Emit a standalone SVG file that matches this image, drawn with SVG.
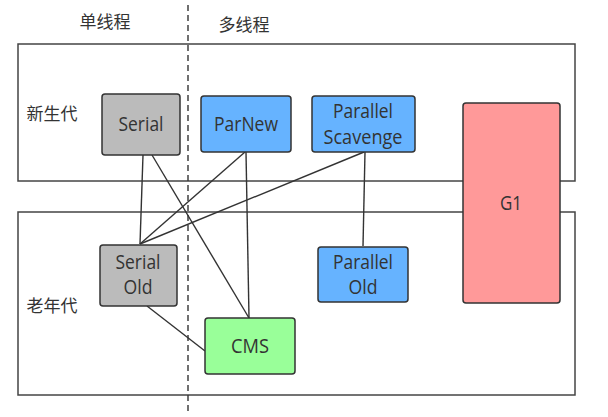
<svg xmlns="http://www.w3.org/2000/svg" width="608" height="417" viewBox="0 0 608 417">
<style>
.region{fill:none;stroke:#444;stroke-width:1.5}
.node{stroke:#333;stroke-width:1.5}
.t{font-family:"Open Sans","Noto Sans","Liberation Sans",sans-serif;font-size:20px;fill:#333;text-anchor:middle}
.c{font-family:"Noto Sans CJK SC",sans-serif;font-size:17px;fill:#333;text-anchor:middle}
.conn{stroke:#333;stroke-width:1.4;fill:none}
</style>
<rect width="608" height="417" fill="#fff"/>
<rect class="region" x="18" y="44" width="557" height="137"/>
<rect class="region" x="18" y="212" width="557" height="183"/>
<line x1="188" y1="5" x2="188" y2="412" stroke="#333" stroke-width="1.4" stroke-dasharray="6,4"/>
<text class="c" x="105" y="28">单线程</text>
<text class="c" x="244" y="31">多线程</text>
<text class="c" x="52" y="120">新生代</text>
<text class="c" x="52" y="312">老年代</text>
<g id="connectors">
<line class="conn" x1="143" y1="155" x2="140" y2="244"/>
<line class="conn" x1="152" y1="155" x2="249" y2="318"/>
<line class="conn" x1="245" y1="152" x2="140" y2="244"/>
<line class="conn" x1="246" y1="152" x2="249" y2="318"/>
<line class="conn" x1="364" y1="152" x2="140" y2="244"/>
<line class="conn" x1="365" y1="152" x2="363" y2="246"/>
<line class="conn" x1="147" y1="306" x2="205" y2="351"/>
</g>
<g id="serial"><rect class="node" x="102" y="94" width="78" height="61" rx="3" fill="#bbbbbb"/><text class="t" x="141" y="131" textLength="45" lengthAdjust="spacingAndGlyphs">Serial</text></g>
<g id="parnew"><rect class="node" x="201" y="96" width="90" height="56" rx="3" fill="#66b3ff"/><text class="t" x="246" y="131" textLength="64" lengthAdjust="spacingAndGlyphs">ParNew</text></g>
<g id="parallel-scavenge"><rect class="node" x="312" y="96" width="103" height="56" rx="3" fill="#66b3ff"/><text class="t" x="363" y="118" textLength="60" lengthAdjust="spacingAndGlyphs">Parallel</text><text class="t" x="363" y="144" textLength="79" lengthAdjust="spacingAndGlyphs">Scavenge</text></g>
<g id="g1"><rect class="node" x="463" y="103" width="97" height="200" rx="3" fill="#ff9999"/><text class="t" x="511" y="210" textLength="22" lengthAdjust="spacingAndGlyphs">G1</text></g>
<g id="serial-old"><rect class="node" x="100" y="245" width="77" height="61" rx="3" fill="#bbbbbb"/><text class="t" x="138" y="269" textLength="45" lengthAdjust="spacingAndGlyphs">Serial</text><text class="t" x="138" y="294" textLength="29" lengthAdjust="spacingAndGlyphs">Old</text></g>
<g id="parallel-old"><rect class="node" x="318" y="247" width="90" height="55" rx="3" fill="#66b3ff"/><text class="t" x="363" y="269" textLength="60" lengthAdjust="spacingAndGlyphs">Parallel</text><text class="t" x="363" y="294" textLength="29" lengthAdjust="spacingAndGlyphs">Old</text></g>
<g id="cms"><rect class="node" x="205" y="318" width="90" height="56" rx="3" fill="#99ff99"/><text class="t" x="250" y="353" textLength="38" lengthAdjust="spacingAndGlyphs">CMS</text></g>
</svg>
